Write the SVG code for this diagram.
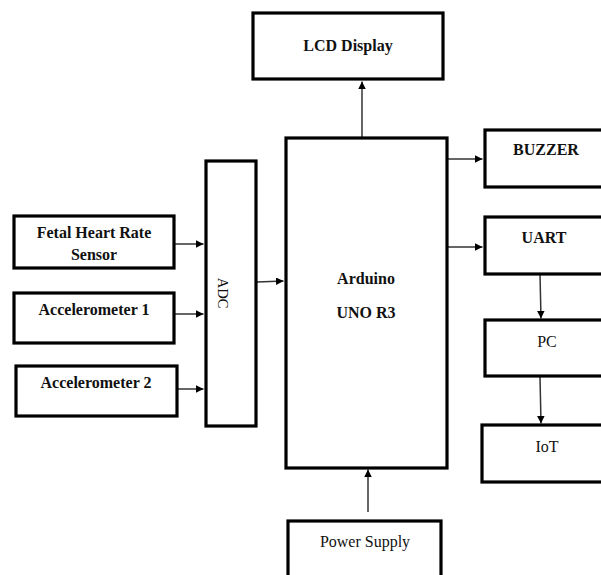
<svg xmlns="http://www.w3.org/2000/svg" width="601" height="575" viewBox="0 0 601 575">
<style>
.box{fill:#fff;stroke:#000;stroke-width:3.2}
.t{font-family:"Liberation Serif","Times New Roman",serif;font-size:16px;font-weight:bold;fill:#111;text-anchor:middle}
.r{font-family:"Liberation Serif","Times New Roman",serif;font-size:16px;fill:#111;text-anchor:middle}
.c{stroke:#333;stroke-width:1.5;fill:none;marker-end:url(#ah)}
</style>
<defs>
<marker id="ah" viewBox="0 0 10 10" refX="10" refY="5" markerWidth="5" markerHeight="5" orient="auto" markerUnits="strokeWidth">
<path d="M0,0 L10,5 L0,10 z" fill="#000"/>
</marker>
</defs>
<rect width="601" height="575" fill="#fff"/>
<g id="connectors">
<line class="c" x1="362" y1="137" x2="362" y2="81.5"/>
<line class="c" x1="174" y1="244" x2="203.5" y2="244"/>
<line class="c" x1="174" y1="314" x2="203.5" y2="314"/>
<line class="c" x1="177" y1="389" x2="203.5" y2="389"/>
<line class="c" x1="257" y1="282" x2="283.5" y2="281"/>
<line class="c" x1="448" y1="159" x2="482.5" y2="159"/>
<line class="c" x1="448" y1="247" x2="482.5" y2="247"/>
<line class="c" x1="540" y1="274" x2="541" y2="318.5"/>
<line class="c" x1="540" y1="377" x2="541" y2="423.5"/>
<line class="c" x1="368" y1="512" x2="368" y2="469.5"/>
</g>
<g id="lcd">
<rect class="box" x="253" y="13" width="190" height="66"/>
<text class="t" x="348" y="51">LCD Display</text>
</g>
<g id="arduino">
<rect class="box" x="286" y="138" width="161" height="330"/>
<text class="t" x="366" y="284">Arduino</text>
<text class="t" x="366" y="318">UNO R3</text>
</g>
<g id="adc">
<rect class="box" x="206" y="161" width="50" height="265"/>
<text class="r" transform="translate(218,293) rotate(90)" style="font-size:14.5px">ADC</text>
</g>
<g id="fetal">
<rect class="box" x="14" y="216" width="160" height="52"/>
<text class="t" x="94" y="238">Fetal Heart Rate</text>
<text class="t" x="94" y="260">Sensor</text>
</g>
<g id="acc1">
<rect class="box" x="14" y="293" width="160" height="50"/>
<text class="t" x="94" y="315">Accelerometer 1</text>
</g>
<g id="acc2">
<rect class="box" x="16" y="366" width="161" height="50"/>
<text class="t" x="96" y="388">Accelerometer 2</text>
</g>
<g id="buzzer">
<rect class="box" x="485" y="130" width="120" height="57"/>
<text class="t" x="546" y="155">BUZZER</text>
</g>
<g id="uart">
<rect class="box" x="485" y="217" width="120" height="57"/>
<text class="t" x="544" y="243">UART</text>
</g>
<g id="pc">
<rect class="box" x="485" y="320" width="120" height="56"/>
<text class="r" x="547" y="347">PC</text>
</g>
<g id="iot">
<rect class="box" x="482" y="425" width="123" height="57"/>
<text class="r" x="547" y="452">IoT</text>
</g>
<g id="power">
<rect class="box" x="288" y="521" width="153" height="60"/>
<text class="r" x="365" y="547">Power Supply</text>
</g>
</svg>
